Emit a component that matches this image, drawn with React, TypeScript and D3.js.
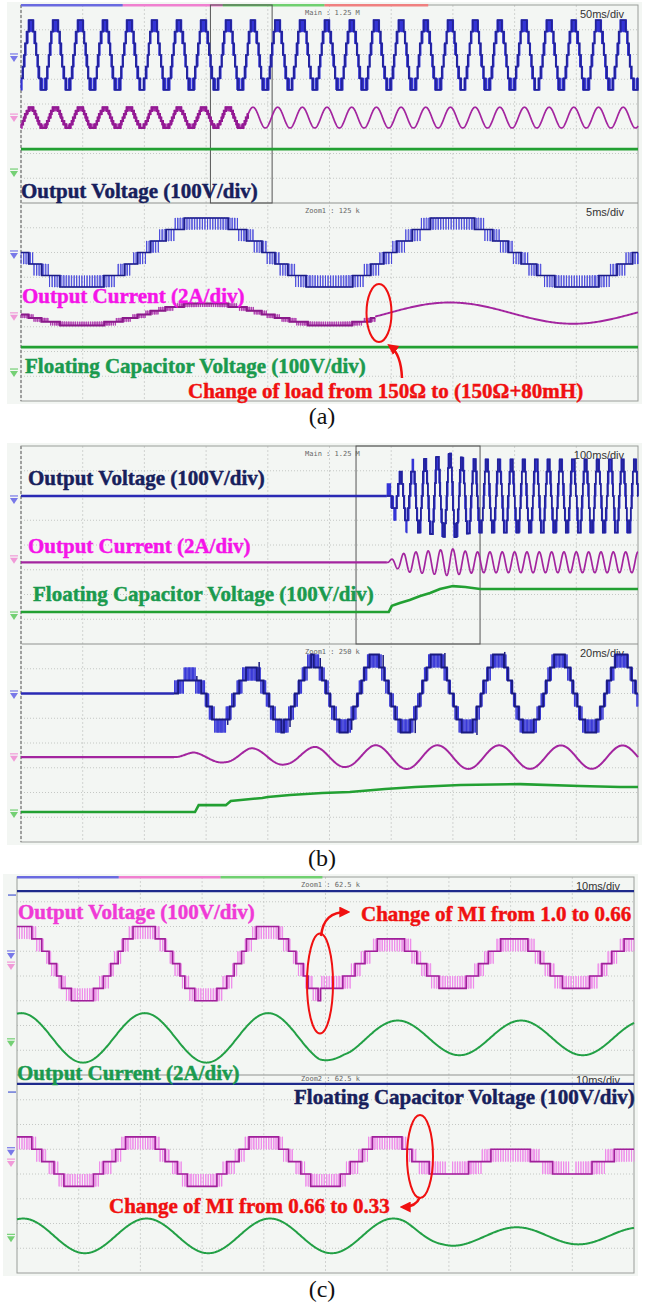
import React, { useMemo } from "react";
import * as d3 from "d3";

type Keys = [number, number][];

// ================= DATA =================
// Scope units: time in horizontal divisions (0–10), level in vertical divisions from grid top (0–16).
const timebaseA = ["Main : 1.25 M", "50ms/div", "Zoom1 : 125 k", "5ms/div"];
const timebaseB = ["Main : 1.25 M", "100ms/div", "Zoom1 : 250 k", "20ms/div"];
const timebaseC = ["Zoom1 : 62.5 k", "10ms/div", "Zoom2 : 62.5 k", "10ms/div"];

// (a) change of load
const aMainVoltage = { center: 2.02, step: 0.47, mod: 3.0, period: 0.4, zero: 0.06 };
const aMainCurrent = { center: 4.55, step: 0.138, mod: 3.0, period: 0.4, zero: 0.06, change: 3.68, amp: 0.42 };
const aZoomVoltage = { center: 10.0, step: 0.465, mod: 2.97, period: 4, zero: 2 };
const aZoomCurrent = { center: 12.5, step: 0.148, mod: 2.97, period: 4, zero: 2, change: 5.74, amp: 0.43, zeroAfter: 1.95, centerAfter: 12.45 };
const aCapLevels = [5.82, 13.82];
const aGrounds = [2.14, 4.57, 6.79, 10.1, 12.6, 14.87];
const aZoomBox = [3.07, 4.07];

// (b) start-up
const bMainVoltage = { center: 2.02, step: 0.493, mod: 3.0, period: 0.2, zero: 6.1, start: 5.93 };
const bMainVoltageEnv: Keys = [[5.93, 0], [6.0, 0.3], [6.1, 0.45], [6.17, 0.6], [6.3, 0.75], [6.39, 0.85], [6.58, 1], [10, 1]];
const bMainVoltageGain: Keys = [[6.5, 1], [6.76, 1.07], [6.98, 1.17], [7.16, 1.04], [7.4, 1], [10, 1]];
const bMainCurrent = { center: 4.7, period: 0.2, zero: 6.15, start: 5.93 };
const bMainCurrentEnv: Keys = [[5.93, 0], [6.05, 0.2], [6.22, 0.38], [6.41, 0.42], [6.6, 0.46], [6.79, 0.5], [6.98, 0.55], [7.16, 0.46], [7.38, 0.42], [10, 0.42]];
const bMainCap: Keys = [[0, 6.71], [5.96, 6.71], [6.01, 6.46], [6.14, 6.34], [6.3, 6.22], [6.47, 6.06], [6.63, 5.94], [6.79, 5.78], [7.0, 5.66], [7.2, 5.7], [7.44, 5.78], [10, 5.78]];
const bZoomVoltage = { center: 10.0, step: 0.525, mod: 2.97, period: 1, zero: 2.48, start: 2.48 };
const bZoomEnvPos: Keys = [[2.48, 0.4], [2.72, 0.42], [3.72, 0.6], [4.72, 0.85], [5.72, 0.95], [6.72, 1], [10, 1]];
const bZoomEnvNeg: Keys = [[3.22, 0.8], [4.22, 0.85], [5.22, 0.9], [6.22, 0.95], [7.22, 1], [10, 1]];
const bZoomSpikes: Keys = [[2.85, 9.29], [3.35, 11.27], [3.86, 8.73], [4.36, 11.35], [4.85, 8.57], [5.36, 11.47], [5.87, 8.44], [6.39, 11.6], [6.87, 8.36], [7.39, 11.68], [7.84, 8.32]];
const bZoomCurrent = { center: 12.57, period: 1, zero: 2.5, start: 2.48 };
const bZoomCurrentEnv: Keys = [[2.48, 0], [2.8, 0.2], [3.3, 0.22], [3.7, 0.36], [4.3, 0.3], [4.8, 0.42], [5.3, 0.4], [5.7, 0.48], [10, 0.47]];
const bZoomCap: Keys = [[0, 14.79], [2.82, 14.79], [2.88, 14.51], [3.32, 14.51], [3.4, 14.34], [3.91, 14.22], [4.0, 14.18], [4.36, 14.1], [4.88, 14.02], [5.33, 13.98], [5.9, 13.86], [6.39, 13.78], [7.12, 13.7], [8.09, 13.66], [9.06, 13.74], [9.71, 13.78], [10, 13.78]];
const bGrounds = [2.18, 4.6, 6.87, 10.06, 12.6, 14.87];
const bZoomBox = [5.43, 7.44];

// (c) change of modulation index
const cW1Voltage = { center: 3.5, step: 0.5, period: 2, zero: -0.43 };
const cW1Mod: Keys = [[4.91, 2.97], [4.93, 1.97]];
const cW1Current = { center: 6.5, period: 2 };
const cW1CurrentAmp: Keys = [[4.9, 1.0], [5.3, 0.76], [6, 0.7], [10, 0.7]];
const cW1CurrentZero: Keys = [[4.9, -0.43], [5.4, -0.33]];
const cW2Voltage = { center: 11.5, step: 0.5, period: 2, zero: -0.5 };
const cW2Mod: Keys = [[6.49, 1.97], [6.51, 0.98]];
const cW2Current = { center: 14.5, period: 2, zero: -0.4 };
const cW2CurrentAmp: Keys = [[6.3, 0.7], [6.9, 0.42], [7.5, 0.35], [10, 0.34]];
const cCapTraces = [0.57, 8.36];
const cCapMarkers = [0.73, 8.69];
const cGrounds = [3.15, 3.6, 6.7, 11.1, 11.56, 14.6];

// ================= LAYOUT =================
const GW = 617;
const GH = 396;
const PA = { left: 21, top: 5 };
const PB = { left: 21, top: 446 };
const PC = { left: 17, top: 877 };

const TAU = Math.PI * 2;
const SERIF = "'Liberation Serif', 'Times New Roman', serif";
const NAVY = "#17205c";
const MAG_LABEL = "#f514e8";
const PINK_LABEL = "#f03ad6";
const GREEN_LABEL = "#1a9a4e";
const RED = "#f01010";

const keyScale = (k: Keys) =>
  d3.scaleLinear().domain(k.map((d) => d[0])).range(k.map((d) => d[1])).clamp(true);

const scalesFor = (p: { left: number; top: number }) => ({
  x: d3.scaleLinear().domain([0, 10]).range([p.left, p.left + GW]),
  y: d3.scaleLinear().domain([0, 16]).range([p.top, p.top + GH]),
});

const f1 = (v: number) => v.toFixed(1);

function stepped(
  x: any, y: any, t0: number, t1: number, carrier: number,
  ref: (t: number) => number, maxL: number, lvlDiv: (l: number, t: number) => number
) {
  let hatch = "";
  let dom = "";
  let started = false;
  for (let i = 0; ; i++) {
    const t = t0 + i * carrier;
    if (t >= t1 - 1e-9) break;
    const te = Math.min(t + carrier, t1);
    const c = te - t;
    const tm = t + c / 2;
    const r = Math.max(-maxL, Math.min(maxL, ref(tm)));
    const k = Math.floor(r);
    const f = r - k;
    const yk = y(lvlDiv(k, tm));
    const yk1 = y(lvlDiv(k + 1, tm));
    const xa = x(t), xb = x(te);
    hatch += (started ? "L" : "M") + f1(xa) + "," + f1(yk);
    if (f > 0.03) {
      const p = x(t + ((1 - f) * c) / 2), q = x(t + ((1 + f) * c) / 2);
      hatch += `L${f1(p)},${f1(yk)}L${f1(p)},${f1(yk1)}L${f1(q)},${f1(yk1)}L${f1(q)},${f1(yk)}`;
    }
    hatch += `L${f1(xb)},${f1(yk)}`;
    const yd = y(lvlDiv(Math.round(r), tm));
    dom += (started ? "L" : "M") + f1(xa) + "," + f1(yd) + "L" + f1(xb) + "," + f1(yd);
    started = true;
  }
  return { hatch, dom };
}

function smooth(x: any, y: any, t0: number, t1: number, fn: (t: number) => number, dt = 0.01) {
  const pts: [number, number][] = d3.range(t0, t1 + dt / 2, dt).map((t) => [x(Math.min(t, t1)), y(fn(Math.min(t, t1)))]);
  return d3.line()(pts) || "";
}

function keyPath(x: any, y: any, k: Keys) {
  return d3.line<[number, number]>().x((d) => x(d[0])).y((d) => y(d[1]))(k) || "";
}

function Label({ x, y, fill, children }: any) {
  return (
    <text x={x} y={y} fontFamily={SERIF} fontWeight="bold" fontSize={21} fill={fill} stroke={fill} strokeWidth={0.45}>
      {children}
    </text>
  );
}

function Frame({ p, split, dashedLeft, bar, texts, smallShift }: any) {
  const { x, y } = scalesFor(p);
  const cols = d3.range(1, 10);
  const rows = d3.range(1, 16).filter((r) => !(split && r === 8));
  return (
    <g>
      <rect x={p.left - 14} y={p.top - 3} width={GW + 18} height={GH + 6} fill="#f3f6f3" />
      {cols.map((c) => (
        <line key={"c" + c} x1={x(c)} x2={x(c)} y1={p.top} y2={p.top + GH} stroke="#c6c9c6" strokeWidth={0.8} strokeDasharray="2,2" />
      ))}
      {rows.map((r) => (
        <line key={"r" + r} x1={p.left} x2={p.left + GW} y1={y(r)} y2={y(r)} stroke="#bfc3bf" strokeWidth={0.9} strokeDasharray="1,2" />
      ))}
      <rect x={p.left} y={p.top} width={GW} height={GH} fill="none" stroke="#9a9d9a" strokeWidth={1} />
      {split && <line x1={p.left} x2={p.left + GW} y1={y(8)} y2={y(8)} stroke="#8f928f" strokeWidth={1} />}
      {dashedLeft && (
        <g>
          <line x1={p.left} x2={p.left} y1={p.top} y2={p.top + GH} stroke="#f3f6f3" strokeWidth={1.5} />
          <line x1={p.left} x2={p.left} y1={p.top} y2={p.top + GH} stroke="#555" strokeWidth={1} strokeDasharray="3,2" />
        </g>
      )}
      {bar &&
        bar.map((b: any, i: number) => (
          <rect key={"b" + i} x={x(b[0])} y={p.top - 1} width={x(b[1]) - x(b[0])} height={2.5} fill={b[2]} />
        ))}
      {texts.map((t: string, i: number) => {
        const wy = i < 2 ? p.top : y(8) - (smallShift || 0);
        return i % 2 === 0 ? (
          <text key={"t" + i} x={p.left + 284} y={wy + 10} fontFamily="'DejaVu Sans Mono', monospace" fontSize={7} fill="#666">{t}</text>
        ) : (
          <text key={"t" + i} x={p.left + 603} y={wy + 13} fontFamily="'Liberation Sans', Arial, sans-serif" fontSize={11} fill="#333" textAnchor="end">{t}</text>
        );
      })}
    </g>
  );
}

function Ground({ x0, yv, color }: any) {
  return (
    <g>
      <line x1={x0} x2={x0 + 8} y1={yv - 4} y2={yv - 4} stroke={color} strokeWidth={1.2} />
      <path d={`M${x0},${yv - 2}L${x0 + 8},${yv - 2}L${x0 + 4},${yv + 4}Z`} fill={color} />
    </g>
  );
}

const groundColors = ["#7878e8", "#f09ad8", "#74d074", "#7878e8", "#f09ad8", "#74d074"];

function PanelA() {
  const { x, y } = scalesFor(PA);
  const mv = aMainVoltage;
  const mvp = stepped(x, y, 0, 10, 0.0162, (t) => mv.mod * Math.sin((TAU * (t - mv.zero)) / mv.period), 3, (l) => mv.center - l * mv.step);
  const mc = aMainCurrent;
  const mcp = stepped(x, y, 0, mc.change, 0.0162, (t) => mc.mod * Math.sin((TAU * (t - mc.zero)) / mc.period), 3, (l) => mc.center - l * mc.step);
  const mcs = smooth(x, y, mc.change, 10, (t) => mc.center - mc.amp * Math.sin((TAU * (t - mc.zero)) / mc.period), 0.004);
  const zv = aZoomVoltage;
  const zvp = stepped(x, y, 0, 10, 0.042, (t) => zv.mod * Math.sin((TAU * (t - zv.zero)) / zv.period), 3, (l) => zv.center - l * zv.step);
  const zc = aZoomCurrent;
  const zcp = stepped(x, y, 0, zc.change, 0.03, (t) => zc.mod * Math.sin((TAU * (t - zc.zero)) / zc.period), 3, (l) => zc.center - l * zc.step);
  const zcs = smooth(x, y, zc.change, 10, (t) => zc.centerAfter - zc.amp * Math.sin((TAU * (t - zc.zeroAfter)) / zc.period), 0.02);
  return (
    <g>
      <Frame p={PA} split dashedLeft texts={timebaseA} bar={[[0, 1.65, "#6a6ae0"], [1.65, 3.27, "#f080d0"], [3.27, 4.92, "#70d070"], [4.92, 6.6, "#f08080"]]} />
      <rect x={x(aZoomBox[0])} y={y(0)} width={x(aZoomBox[1]) - x(aZoomBox[0])} height={y(8) - y(0)} fill="none" stroke="#555" strokeWidth={1} />
      {aGrounds.map((g, i) => <Ground key={i} x0={PA.left - 11} yv={y(g)} color={groundColors[i]} />)}
      <path d={mvp.hatch} fill="none" stroke="#3434d6" strokeWidth={1.3} />
      <path d={mvp.dom} fill="none" stroke="#22229a" strokeWidth={1.7} />
      <path d={mcp.hatch} fill="none" stroke="#a62aa6" strokeWidth={1.6} />
      <path d={mcp.dom} fill="none" stroke="#921a92" strokeWidth={2.2} />
      <path d={mcs} fill="none" stroke="#a3259f" strokeWidth={1.7} />
      <line x1={x(0)} x2={x(10)} y1={y(aCapLevels[0])} y2={y(aCapLevels[0])} stroke="#22a032" strokeWidth={2.8} />
      <path d={zvp.hatch} fill="none" stroke="#4444da" strokeWidth={0.85} />
      <path d={zvp.dom} fill="none" stroke="#1c1c88" strokeWidth={1.7} />
      <path d={zcp.hatch} fill="none" stroke="#b040b0" strokeWidth={1.0} />
      <path d={zcp.dom} fill="none" stroke="#8a1a8a" strokeWidth={2.0} />
      <path d={zcs} fill="none" stroke="#a3259f" strokeWidth={1.9} />
      <line x1={x(0)} x2={x(10)} y1={y(aCapLevels[1])} y2={y(aCapLevels[1])} stroke="#22a032" strokeWidth={2.8} />
      <Label x={21} y={198} fill={NAVY}>Output Voltage (100V/div)</Label>
      <Label x={22} y={303} fill={MAG_LABEL}>Output Current (2A/div)</Label>
      <Label x={25} y={373} fill={GREEN_LABEL}>Floating Capacitor Voltage (100V/div)</Label>
      <Label x={188} y={398} fill={RED}>Change of load from 150Ω to (150Ω+80mH)</Label>
      <ellipse cx={379} cy={313} rx={12.5} ry={29} fill="none" stroke={RED} strokeWidth={2} />
      <path d="M402,378 Q401,354 390,346" fill="none" stroke={RED} strokeWidth={2.5} markerEnd="url(#ah)" />
      <text x={322} y={424} fontFamily={SERIF} fontSize={24} textAnchor="middle" fill="#111">(a)</text>
    </g>
  );
}

function PanelB() {
  const { x, y } = scalesFor(PB);
  const mv = bMainVoltage;
  const env = keyScale(bMainVoltageEnv);
  const gain = keyScale(bMainVoltageGain);
  const mvp = stepped(x, y, mv.start, 10, 0.0162, (t) => mv.mod * env(t) * Math.sin((TAU * (t - mv.zero)) / mv.period), 3, (l, t) => mv.center - l * mv.step * gain(t));
  const mc = bMainCurrent;
  const menv = keyScale(bMainCurrentEnv);
  const mcs = smooth(x, y, mc.start, 10, (t) => mc.center - menv(t) * Math.sin((TAU * (t - mc.zero)) / mc.period), 0.003);
  const zv = bZoomVoltage;
  const ep = keyScale(bZoomEnvPos), en = keyScale(bZoomEnvNeg);
  const zref = (t: number) => {
    const s = Math.sin((TAU * (t - zv.zero)) / zv.period);
    return zv.mod * (s >= 0 ? ep(t) : en(t)) * s;
  };
  const zvp = stepped(x, y, zv.start, 10, 0.022, zref, 3, (l) => zv.center - l * zv.step);
  const zc = bZoomCurrent;
  const zenv = keyScale(bZoomCurrentEnv);
  const zcs = smooth(x, y, zc.start, 10, (t) => zc.center - zenv(t) * Math.sin((TAU * (t - zc.zero)) / zc.period), 0.01);
  return (
    <g>
      <Frame p={PB} split dashedLeft texts={timebaseB} />
      <rect x={x(bZoomBox[0])} y={y(0)} width={x(bZoomBox[1]) - x(bZoomBox[0])} height={y(8) - y(0)} fill="none" stroke="#555" strokeWidth={1} />
      {bGrounds.map((g, i) => <Ground key={i} x0={PB.left - 11} yv={y(g)} color={groundColors[i]} />)}
      <line x1={x(0)} x2={x(mv.start)} y1={y(mv.center)} y2={y(mv.center)} stroke="#2a2ab4" strokeWidth={2.6} />
      <path d={mvp.hatch} fill="none" stroke="#3434d6" strokeWidth={1.3} />
      <path d={mvp.dom} fill="none" stroke="#22229a" strokeWidth={1.7} />
      <line x1={x(0)} x2={x(mc.start)} y1={y(mc.center)} y2={y(mc.center)} stroke="#a3259f" strokeWidth={2.2} />
      <path d={mcs} fill="none" stroke="#a3259f" strokeWidth={1.7} />
      <path d={keyPath(x, y, bMainCap)} fill="none" stroke="#22a032" strokeWidth={2.6} />
      <line x1={x(0)} x2={x(zv.start)} y1={y(zv.center)} y2={y(zv.center)} stroke="#2a2ab4" strokeWidth={2.4} />
      <path d={zvp.hatch} fill="none" stroke="#3a3ad8" strokeWidth={1.0} />
      <path d={zvp.dom} fill="none" stroke="#1a1a80" strokeWidth={1.8} />
      {bZoomSpikes.map((s, i) => (
        <line key={i} x1={x(s[0])} x2={x(s[0])} y1={y(zv.center - Math.round(Math.max(-3, Math.min(3, zref(s[0])))) * zv.step)} y2={y(s[1])} stroke="#1a1a80" strokeWidth={1.5} />
      ))}
      <line x1={x(0)} x2={x(zc.start)} y1={y(zc.center)} y2={y(zc.center)} stroke="#a3259f" strokeWidth={2.2} />
      <path d={zcs} fill="none" stroke="#a3259f" strokeWidth={2} />
      <path d={keyPath(x, y, bZoomCap)} fill="none" stroke="#22a032" strokeWidth={2.6} />
      <Label x={28} y={485} fill={NAVY}>Output Voltage (100V/div)</Label>
      <Label x={28} y={553} fill={MAG_LABEL}>Output Current (2A/div)</Label>
      <Label x={33} y={601} fill={GREEN_LABEL}>Floating Capacitor Voltage (100V/div)</Label>
      <text x={322} y={866} fontFamily={SERIF} fontSize={24} textAnchor="middle" fill="#111">(b)</text>
    </g>
  );
}

function PanelC() {
  const { x, y } = scalesFor(PC);
  const v1 = cW1Voltage;
  const m1 = keyScale(cW1Mod);
  const v1p = stepped(x, y, 0, 10, 0.04, (t) => m1(t) * Math.sin((TAU * (t - v1.zero)) / v1.period), 3, (l) => v1.center - l * v1.step);
  const a1 = keyScale(cW1CurrentAmp), z1 = keyScale(cW1CurrentZero);
  const c1 = smooth(x, y, 0, 10, (t) => cW1Current.center - a1(t) * Math.sin((TAU * (t - z1(t))) / cW1Current.period), 0.01);
  const v2 = cW2Voltage;
  const m2 = keyScale(cW2Mod);
  const v2p = stepped(x, y, 0, 10, 0.04, (t) => m2(t) * Math.sin((TAU * (t - v2.zero)) / v2.period), 3, (l) => v2.center - l * v2.step);
  const a2 = keyScale(cW2CurrentAmp);
  const c2 = smooth(x, y, 0, 10, (t) => cW2Current.center - a2(t) * Math.sin((TAU * (t - cW2Current.zero)) / cW2Current.period), 0.01);
  return (
    <g>
      <Frame p={PC} split texts={timebaseC} smallShift={4} bar={[[0, 1.65, "#6a6ae0"], [1.65, 3.3, "#f080d0"], [3.3, 4.95, "#70d070"]]} />
      {cGrounds.map((g, i) => <Ground key={i} x0={PC.left - 10} yv={y(g)} color={groundColors[i]} />)}
      {cCapMarkers.map((g, i) => <line key={"m" + i} x1={PC.left - 9} x2={PC.left - 1} y1={y(g)} y2={y(g)} stroke="#6a78d8" strokeWidth={1.5} />)}
      {cCapTraces.map((g, i) => <line key={"n" + i} x1={x(0)} x2={x(10)} y1={y(g)} y2={y(g)} stroke="#1e2a8c" strokeWidth={2.4} />)}
      <path d={v1p.hatch} fill="none" stroke="#ee88ea" strokeWidth={0.9} />
      <path d={v1p.dom} fill="none" stroke="#a0209a" strokeWidth={1.6} />
      <path d={c1} fill="none" stroke="#22a045" strokeWidth={2} />
      <path d={v2p.hatch} fill="none" stroke="#ee88ea" strokeWidth={0.9} />
      <path d={v2p.dom} fill="none" stroke="#a0209a" strokeWidth={1.6} />
      <path d={c2} fill="none" stroke="#22a045" strokeWidth={2} />
      <Label x={18} y={919} fill={PINK_LABEL}>Output Voltage (100V/div)</Label>
      <Label x={361} y={921} fill={RED}>Change of MI from 1.0 to 0.66</Label>
      <Label x={17} y={1080} fill={GREEN_LABEL}>Output Current (2A/div)</Label>
      <Label x={294} y={1104} fill={NAVY}>Floating Capacitor Voltage (100V/div)</Label>
      <Label x={109} y={1213} fill={RED}>Change of MI from 0.66 to 0.33</Label>
      <ellipse cx={320} cy={983.5} rx={13} ry={50} fill="none" stroke={RED} strokeWidth={2} />
      <path d="M321,936 C323,919 331,912 347,912" fill="none" stroke={RED} strokeWidth={2.5} markerEnd="url(#ah)" />
      <ellipse cx={420} cy={1156.5} rx={13} ry={41.5} fill="none" stroke={RED} strokeWidth={2} />
      <path d="M420,1197 Q416,1207 403,1207" fill="none" stroke={RED} strokeWidth={2.5} markerEnd="url(#ah)" />
      <text x={322} y={1297} fontFamily={SERIF} fontSize={24} textAnchor="middle" fill="#111">(c)</text>
    </g>
  );
}

export default function App() {
  const content = useMemo(
    () => (
      <>
        <PanelA />
        <PanelB />
        <PanelC />
      </>
    ),
    []
  );
  return (
    <svg width={647} height={1307} viewBox="0 0 647 1307" style={{ position: "absolute", left: 0, top: 0, background: "#fff" }}>
      <defs>
        <marker id="ah" viewBox="0 0 10 10" refX="7" refY="5" markerWidth="4.4" markerHeight="4.4" orient="auto" markerUnits="strokeWidth">
          <path d="M0,0L10,5L0,10z" fill={RED} />
        </marker>
      </defs>
      <rect x={0} y={0} width={647} height={1307} fill="#fff" />
      {content}
    </svg>
  );
}
